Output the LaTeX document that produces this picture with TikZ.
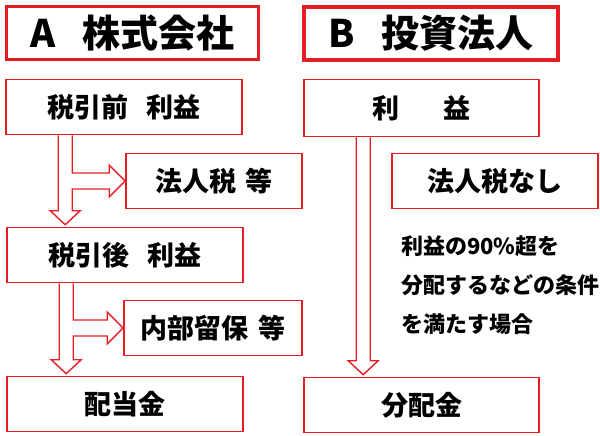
\documentclass[tikz,border=0pt]{standalone}
\usepackage{fontspec}
\setmainfont{Noto Sans CJK JP}
\usetikzlibrary{calc,positioning}
\definecolor{boxred}{RGB}{228,30,36}

\begin{document}
\begin{tikzpicture}[x=1pt,y=-1pt,
  titlebox/.style={draw=boxred, line width=3.4pt, minimum width=252pt, minimum height=53pt, inner sep=0pt, font=\fontsize{38pt}{44pt}\selectfont\bfseries},
  box/.style={draw=boxred, line width=1.6pt, minimum height=55pt, inner sep=0pt, font=\fontsize{27pt}{32pt}\selectfont\bfseries},
  blockarrow/.style={draw=boxred, line width=1.4pt, line join=miter}]
\useasboundingbox (0,0) rectangle (600,436);

% A: company
\node[titlebox] (titleA) at (132.5,33) {A\hspace{0.7em}株式会社};
\node[box, minimum width=236pt] (pre) at (124,107) {税引前\hspace{0.7em}利益};
\node[box, minimum width=176pt] (tax) at (214,181) {法人税\hspace{0.35em}等};
\node[box, minimum width=236pt] (post) at (125,255) {税引後\hspace{0.7em}利益};
\node[box, minimum width=178pt] (retain) at (213,328) {内部留保\hspace{0.35em}等};
\node[box, minimum width=236pt] (divA) at (125,404) {配当金};

% B: investment corporation
\node[titlebox, minimum width=254pt] (titleB) at (431,33.5) {B\hspace{0.7em}投資法人};
\node[box, minimum width=235pt, minimum height=57pt] (profit) at (421.5,108) {利\hspace{1.6em}益};
\node[box, minimum width=206pt] (notax) at (495,181) {法人税なし};
\node[anchor=west, align=left, inner sep=0pt, font=\fontsize{22pt}{39pt}\selectfont\bfseries] (cond) at (401,285)
  {利益の90\%超を\\分配するなどの条件\\を満たす場合};
\node[box, minimum width=235pt] (divB) at (421.5,405) {分配金};

% split arrows
\foreach \from/\to/\side in {pre/post/tax, post/divA/retain}
  \draw[blockarrow] let \p1=(\from.south west), \p2=(\to.north), \p3=(\side.west) in
    (\x1+53pt,\y1) -- (\x1+53pt,\y2+16pt) -- (\x1+45pt,\y2+16pt) -- (\x1+60pt,\y2+2pt)
    -- (\x1+75pt,\y2+16pt) -- (\x1+67pt,\y2+16pt) -- (\x1+67pt,\y3-8pt)
    -- (\x3-16pt,\y3-8pt) -- (\x3-16pt,\y3-16pt) -- (\x3,\y3) -- (\x3-16pt,\y3+16pt)
    -- (\x3-16pt,\y3+8pt) -- (\x1+67pt,\y3+8pt) -- (\x1+67pt,\y1);

% straight arrow
\draw[blockarrow] let \p1=(profit.south west), \p2=(divB.north) in
  (\x1+53pt,\y1) -- (\x1+53pt,\y2+16pt) -- (\x1+45pt,\y2+16pt) -- (\x1+60pt,\y2+2pt)
  -- (\x1+75pt,\y2+16pt) -- (\x1+67pt,\y2+16pt) -- (\x1+67pt,\y1);
\end{tikzpicture}
\end{document}
